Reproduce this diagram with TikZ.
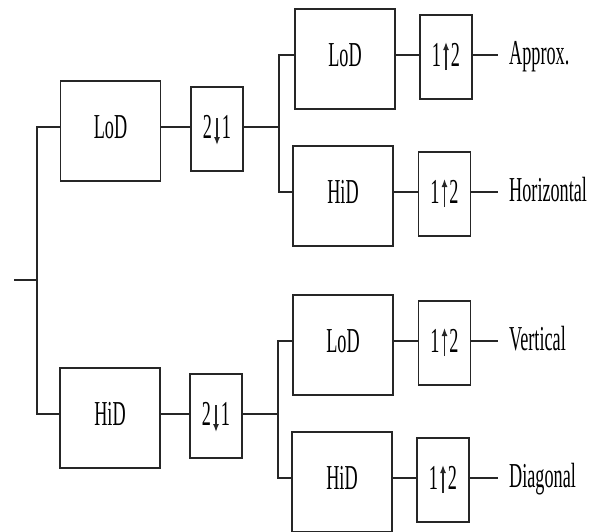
\documentclass[tikz,border=0pt]{standalone}
\usepackage{fontspec}
\setmainfont[FakeStretch=0.52]{Liberation Serif}
\usetikzlibrary{arrows.meta}
\begin{document}
\begin{tikzpicture}[x=1pt,y=-1pt,
  wire/.style={line width=1.9pt, draw=black!85},
  boxbase/.style={draw=black!85, line width=1.9pt, inner sep=0pt,
    text height=23pt, font=\fontsize{35}{40}\selectfont},
  filterbox/.style={boxbase, minimum width=100pt, minimum height=100pt, text depth=8pt},
  ratebox/.style={boxbase, minimum width=52pt, minimum height=84pt, text depth=4pt},
  outlabel/.style={anchor=west, inner sep=0pt, inner xsep=11pt,
    text height=23pt, text depth=4pt, font=\fontsize{35}{40}\selectfont},
  ratearrow/.style={line width=1.4pt, draw=black!85, -{Latex[length=8pt,width=6pt]}}
]
\useasboundingbox (0,0) rectangle (595,531);

% signal rows
\coordinate (rA) at (0,127);
\coordinate (rB) at (0,414);
\coordinate (s1) at (0,55);
\coordinate (s2) at (0,192);
\coordinate (s3) at (0,341);
\coordinate (s4) at (0,478);

% input and branch points
\coordinate (in) at (14,280);
\coordinate (j0) at (37,280);
\coordinate (jA) at (279,127);
\coordinate (jB) at (278,414);

% first stage: filters and downsampling
\node[filterbox] (lo1) at (110.5,131) {LoD};
\node[filterbox] (hi1) at (110,418) {HiD};
\node[ratebox] (dn1) at (217,129) {2\hspace{10pt}1};
\node[ratebox] (dn2) at (216,416) {2\hspace{10pt}1};

% second stage: filters
\node[filterbox] (lo2) at (345,59) {LoD};
\node[filterbox] (hi2) at (343,196) {HiD};
\node[filterbox] (lo3) at (343,345) {LoD};
\node[filterbox] (hi3) at (342,482) {HiD};

% upsampling
\node[ratebox] (up1) at (446,57) {1\hspace{10pt}2};
\node[ratebox] (up2) at (444.5,194) {1\hspace{10pt}2};
\node[ratebox] (up3) at (444.5,343) {1\hspace{10pt}2};
\node[ratebox] (up4) at (443,480) {1\hspace{10pt}2};

% outputs
\node[outlabel] (o1) at (498,55) {Approx.};
\node[outlabel] (o2) at (498,192) {Horizontal};
\node[outlabel] (o3) at (498,341) {Vertical};
\node[outlabel] (o4) at (498,478) {Diagonal};

% rate-change arrows
\foreach \b in {dn1,dn2}
  \draw[ratearrow] ([yshift=11pt]\b.center) -- ([yshift=-16pt]\b.center);
\foreach \b in {up1,up2,up3,up4}
  \draw[ratearrow] ([yshift=-13pt]\b.center) -- ([yshift=15pt]\b.center);

% wiring
\draw[wire] (in) -- (j0);
\draw[wire] (lo1.west |- rA) -| (j0) |- (hi1.west |- rB);
\draw[wire] (lo1.east |- rA) -- (dn1.west |- rA);
\draw[wire] (hi1.east |- rB) -- (dn2.west |- rB);
\draw[wire] (dn1.east |- rA) -- (jA);
\draw[wire] (dn2.east |- rB) -- (jB);
\draw[wire] (lo2.west |- s1) -| (jA) |- (hi2.west |- s2);
\draw[wire] (lo3.west |- s3) -| (jB) |- (hi3.west |- s4);
\draw[wire] (lo2.east |- s1) -- (up1.west |- s1);
\draw[wire] (hi2.east |- s2) -- (up2.west |- s2);
\draw[wire] (lo3.east |- s3) -- (up3.west |- s3);
\draw[wire] (hi3.east |- s4) -- (up4.west |- s4);
\draw[wire] (up1.east |- s1) -- (o1.west |- s1);
\draw[wire] (up2.east |- s2) -- (o2.west |- s2);
\draw[wire] (up3.east |- s3) -- (o3.west |- s3);
\draw[wire] (up4.east |- s4) -- (o4.west |- s4);
\end{tikzpicture}
\end{document}
